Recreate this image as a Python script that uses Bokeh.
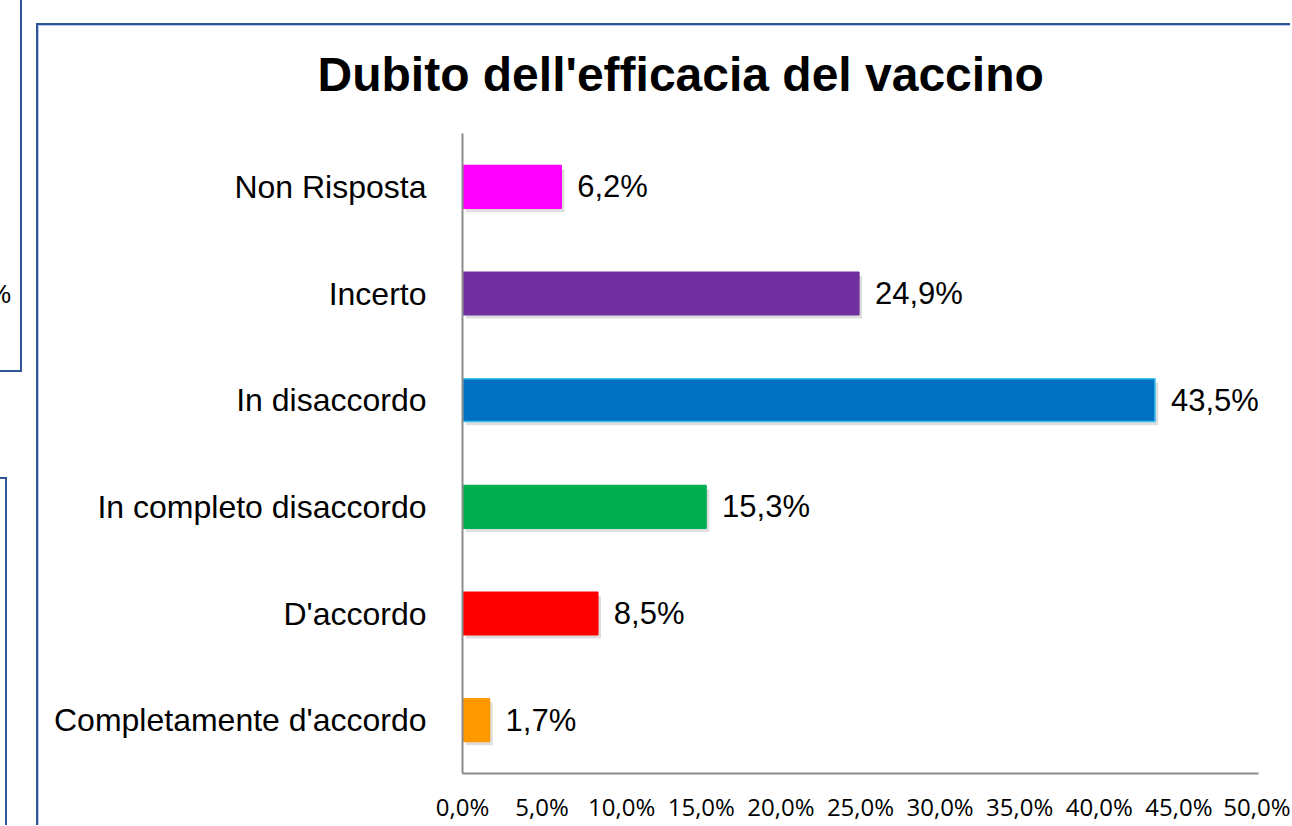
from bokeh.plotting import figure
from bokeh.models import (FactorRange, Range1d, ColumnDataSource,
                          FixedTicker, LabelSet, Title, InlineStyleSheet)
from bokeh.transform import dodge
from bokeh.core.properties import value
from bokeh.embed import file_html
from bokeh.resources import INLINE

# ---- data ----
categories = ["Completamente d'accordo", "D'accordo", "In completo disaccordo",
              "In disaccordo", "Incerto", "Non Risposta"]
percentages = [1.7, 8.5, 15.3, 43.5, 24.9, 6.2]
bar_colors = ["#ff9900", "#ff0000", "#00b050", "#0070c0", "#7030a0", "#ff00ff"]
outline_colors = ["#ff9900", "#ff0000", "#00b050", "#3cc0f0", "#7030a0", "#ff00ff"]
x_ticks = [0, 5, 10, 15, 20, 25, 30, 35, 40, 45, 50]
x_tick_labels = ["0,0%", "5,0%", "10,0%", "15,0%", "20,0%", "25,0%",
                 "30,0%", "35,0%", "40,0%", "45,0%", "50,0%"]
title_text = "Dubito dell'efficacia del vaccino"

value_labels = [f"{v:.1f}".replace(".", ",") + "%" for v in percentages]

src = ColumnDataSource(dict(
    cat=categories,
    val=percentages,
    color=bar_colors,
    outline=outline_colors,
    label=value_labels,
    shadow_right=[v + 0.2 for v in percentages],
))

W, H = 1290, 825
p = figure(width=W, height=H,
           x_range=Range1d(0, 50),
           y_range=FactorRange(*categories, range_padding=0),
           output_backend="svg", toolbar_location=None,
           min_border_left=462, min_border_right=W - 1258,
           min_border_top=133, min_border_bottom=46)
p.outline_line_color = None
p.xgrid.visible = False
p.ygrid.visible = False
p.background_fill_color = "white"
p.border_fill_color = "white"

# decorative slide frames (CSS, around the chart object)
frame_css = """
:host::after {
  content: ""; position: absolute; left: 36px; top: 23px; right: 0; bottom: 0;
  border-left: 2px solid #2f5597; border-top: 2px solid #2f5597;
  box-shadow: inset 1px 1px 0 #b4c7e7; pointer-events: none; box-sizing: border-box;
}
:host::before {
  content: "%"; position: absolute; left: 0; top: 0; width: 24px; bottom: 0;
  font: 26px "Liberation Sans"; color: #000; line-height: 30px;
  padding-top: 279px; text-indent: -12px; overflow: hidden; box-sizing: border-box;
  pointer-events: none; z-index: 5;
  background:
    linear-gradient(#2f5597, #2f5597) 20px 0 / 2px 372px no-repeat,
    linear-gradient(#2f5597, #2f5597) 0 370px / 22px 2px no-repeat,
    linear-gradient(#2f5597, #2f5597) 0 477px / 7px 2px no-repeat,
    linear-gradient(#2f5597, #2f5597) 5px 477px / 2px 400px no-repeat;
}
"""
p.stylesheets = [InlineStyleSheet(css=frame_css)]

# shadow
p.hbar(y=dodge("cat", -0.035, range=p.y_range), left=0.2, right="shadow_right",
       height=0.4, source=src, fill_color="#000000", fill_alpha=0.13, line_color=None)
# bars
p.hbar(y="cat", left=0, right="val", height=0.4, source=src,
       fill_color="color", line_color="outline", line_width=1.5)

p.add_layout(LabelSet(x="val", y="cat", text="label", source=src, x_offset=16,
                      text_baseline="middle", text_align="left",
                      text_font=value("Liberation Sans"), text_font_size=value("31px"),
                      text_color="#000000"))

t = Title(text=title_text, align="left", offset=-145, standoff=66,
          text_font="Liberation Sans", text_font_size="48px",
          text_font_style="bold", text_color="#000000")
p.add_layout(t, "above")

for ax in (p.xaxis[0], p.yaxis[0]):
    ax.axis_line_color = "#8c8c8c"
    ax.axis_line_width = 2
    ax.major_tick_line_color = None
    ax.minor_tick_line_color = None
    ax.major_tick_out = 0
    ax.major_tick_in = 0
    ax.minor_tick_out = 0

p.yaxis.major_label_text_font = "Liberation Sans"
p.yaxis.major_label_text_font_size = "32px"
p.yaxis.major_label_text_color = "#000000"
p.yaxis.major_label_standoff = 36

p.xaxis.ticker = FixedTicker(ticks=x_ticks)
p.xaxis.major_label_overrides = {t_: l for t_, l in zip(x_ticks, x_tick_labels)}
p.xaxis.major_label_text_font = "Open Sans"
p.xaxis.major_label_text_font_size = "24px"
p.xaxis.major_label_text_color = "#000000"
p.xaxis.major_label_standoff = 16

open("out.html", "w").write(file_html(p, INLINE))
